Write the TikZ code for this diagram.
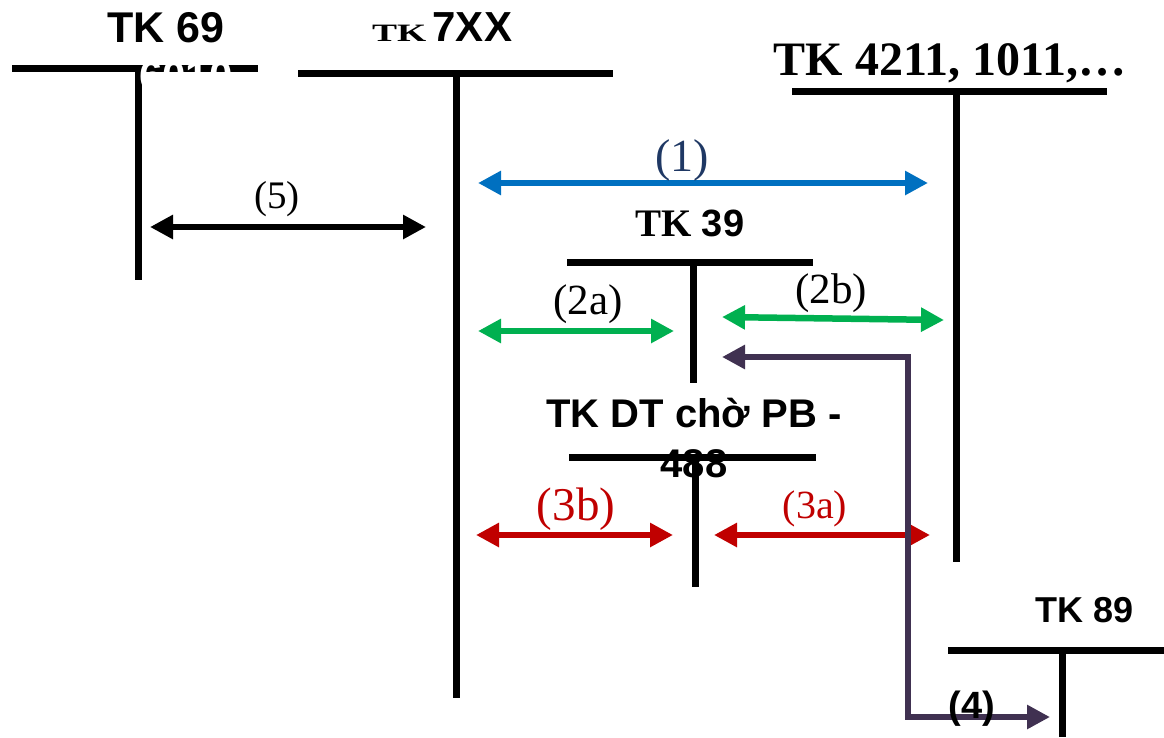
\documentclass[tikz,border=0pt]{standalone}
\usepackage{fontspec}
\setmainfont{Liberation Serif}
\newfontfamily\arial{Liberation Sans}
\usepackage{graphicx}
\usetikzlibrary{arrows.meta}
\definecolor{arrblue}{RGB}{0,112,192}
\definecolor{arrgreen}{RGB}{0,176,80}
\definecolor{arrred}{RGB}{192,0,0}
\definecolor{arrpurple}{RGB}{64,49,81}
\definecolor{navy}{RGB}{31,56,100}
\newcommand{\fsz}[1]{\fontsize{#1}{#1}\selectfont}

\begin{document}
\begin{tikzpicture}[x=1pt, y=-1pt,
  tline/.style = {line width=7pt},
  twoway/.style = {line width=6.5pt, {Triangle[length=23pt,width=23pt]}-{Triangle[length=23pt,width=23pt]}},
  lbl/.style = {inner sep=0pt, anchor=base}]
\useasboundingbox (0,0) rectangle (1164,737);
% T accounts
\draw[tline] (12,68) -- (258,68);
\draw[tline] (138,68) -- (138,280);
\draw[tline] (298,73) -- (613,73);
\draw[tline] (456,73) -- (456,698);
\draw[tline] (792,91) -- (1107,91);
\draw[tline] (956,91) -- (956,562);
\draw[tline] (567,262) -- (813,262);
\draw[tline] (693,262) -- (693,383);
\draw[tline] (569,457) -- (816,457);
\draw[tline] (695,457) -- (695,587);
\draw[tline] (948,650) -- (1164,650);
\draw[tline] (1062,650) -- (1062,737);
% account titles
\node[lbl, font=\arial\bfseries\fsz{43}] (t69) at (166,42) {TK 69};
\node[lbl, anchor=base west] (t7xx) at (372,41) {\bfseries\fsz{25}\scalebox{1.5}[1]{TK} \arial\fsz{42}7XX};
\node[lbl, font=\bfseries\fsz{48}] (t4211) at (950,75) {TK 4211, 1011,…};
\node[lbl] (t39) at (690,236) {\bfseries\fsz{39}TK \arial\fsz{38}39};
\node[lbl, font=\arial\bfseries\fsz{40}] (t488a) at (694,427) {TK DT chờ PB -};
\node[lbl, font=\arial\bfseries\fsz{40}] (t488b) at (694,477) {488};
\node[lbl, font=\arial\bfseries\fsz{36}] (t89) at (1085,622) {TK 89};
\node[lbl, font=\arial\bfseries\fsz{42}, text=white] (t69b) at (186,90) {6010};
% arrow ends
\coordinate (a1l) at (478,183);
\coordinate (a1r) at (928,183);
\coordinate (a5l) at (150,227);
\coordinate (a5r) at (426,227);
\coordinate (a2al) at (478,331);
\coordinate (a2ar) at (674,331);
\coordinate (a2bl) at (722,317);
\coordinate (a2br) at (944,320);
\coordinate (a3bl) at (476,535);
\coordinate (a3br) at (673,535);
\coordinate (a3al) at (714,535);
\coordinate (a3ar) at (930,535);
\coordinate (a4t) at (722,357);
\coordinate (a4b) at (1050,717);
% arrows
\draw[twoway, arrblue] (a1l) -- (a1r);
\draw[twoway, black] (a5l) -- (a5r);
\draw[twoway, arrgreen] (a2al) -- (a2ar);
\draw[twoway, arrgreen] (a2bl) -- (a2br);
\draw[twoway, arrred] (a3bl) -- (a3br);
\draw[twoway, arrred] (a3al) -- (a3ar);
\draw[twoway, arrpurple, line width=6pt] (a4t) -- (908,357) |- (a4b);
% arrow labels
\node[lbl, font=\fsz{46}, text=navy] (l1) at (682,171) {(1)};
\node[lbl, font=\fsz{39}] (l5) at (277,208) {(5)};
\node[lbl, font=\fsz{43}] (l2a) at (588,314) {(2a)};
\node[lbl, font=\fsz{43}] (l2b) at (831,303) {(2b)};
\node[lbl, font=\fsz{47}, text=arrred] (l3b) at (576,520) {(3b)};
\node[lbl, font=\fsz{40}, text=arrred] (l3a) at (815,518) {(3a)};
\node[lbl, font=\arial\bfseries\fsz{38}] (l4) at (972,718) {(4)};
\end{tikzpicture}
\end{document}
